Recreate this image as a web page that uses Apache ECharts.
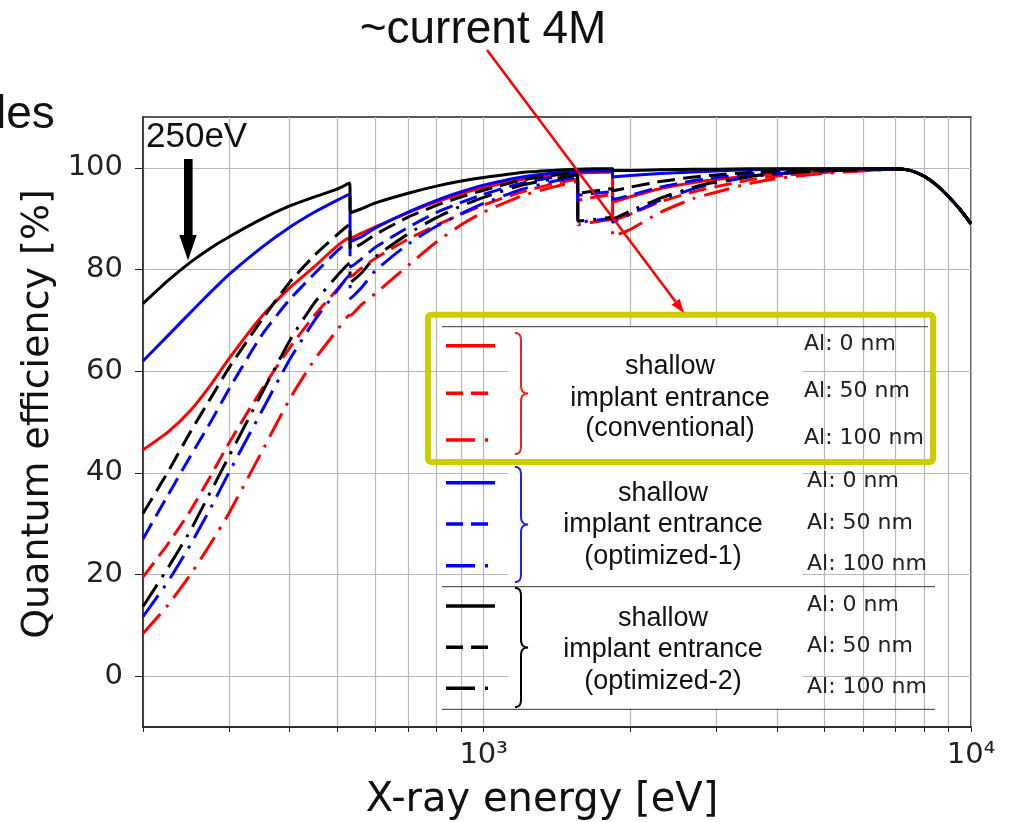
<!DOCTYPE html>
<html><head><meta charset="utf-8">
<script src="https://cdn.jsdelivr.net/npm/echarts@6/dist/echarts.min.js"></script>
<style>html,body{margin:0;padding:0;background:#fff}#c{width:1011px;height:822px}</style>
</head><body><div id="c"></div>
<script>
// X-ray energy [eV]
const energy = [200,225,250,275,300,350,400,450,500,531,533,560,600,700,800,900,1000,1200,1400,1559,1561,1700,1838,1840,2000,2300,2700,3000,3500,4000,5000,6000,7000,7500,8000,8500,9000,9500,10000];

// shallow implant entrance (conventional) - red
const conv0   = [44.5,48.0,52.2,57.2,62.4,70.7,76.4,80.6,84.6,86.2,86.2,87.1,88.4,91.2,93.3,94.9,96.1,97.7,98.6,99.0,99.0,99.1,99.2,93.2,94.3,95.9,97.1,97.7,98.4,98.9,99.4,99.6,99.8,99.5,98.4,96.6,94.3,91.8,89.0];
const conv50  = [19.5,26.0,32.5,39.3,45.8,56.3,64.6,71.0,76.0,78.6,78.6,80.2,82.2,86.0,88.7,90.9,92.7,95.3,96.9,97.8,93.6,94.3,94.8,89.6,90.9,93.3,95.3,96.3,97.6,98.4,99.1,99.5,99.7,99.5,98.4,96.6,94.3,91.8,89.0];
const conv100 = [8.4,14.0,19.9,26.0,32.0,44.0,54.5,62.3,68.0,71.0,71.0,73.0,75.3,80.8,85.4,88.8,91.3,94.5,96.3,97.3,88.8,89.4,89.9,86.5,87.9,91.2,94.0,95.2,96.9,97.9,98.9,99.4,99.7,99.5,98.4,96.6,94.3,91.8,89.0];

// shallow implant entrance (optimized-1) - blue
const opt1_0   = [62.0,67.0,71.5,75.5,79.0,84.3,88.3,91.3,93.6,94.8,85.5,86.4,88.2,91.3,93.6,95.3,96.6,98.2,99.0,99.3,99.3,99.4,99.4,98.2,98.5,98.9,99.2,99.4,99.6,99.7,99.8,99.8,99.8,99.5,98.4,96.6,94.3,91.8,89.0];
const opt1_50  = [27.0,35.6,43.2,49.9,56.4,67.0,74.1,79.2,83.6,85.8,80.5,82.0,84.4,88.3,91.2,93.2,94.8,97.0,98.2,98.8,94.6,95.0,95.3,93.8,94.6,96.2,97.5,98.1,98.8,99.2,99.5,99.7,99.8,99.5,98.4,96.6,94.3,91.8,89.0];
const opt1_100 = [11.7,18.6,25.8,33.0,40.0,52.0,62.3,70.0,75.8,79.0,74.3,76.3,79.8,85.0,88.5,91.0,93.0,95.8,97.4,98.2,89.3,89.7,90.1,89.3,90.9,93.6,95.9,97.0,98.2,98.8,99.4,99.6,99.8,99.5,98.4,96.6,94.3,91.8,89.0];

// shallow implant entrance (optimized-2) - black
const opt2_0   = [73.3,77.8,81.4,84.2,86.4,89.9,92.5,94.3,95.8,97.0,91.2,91.9,93.1,95.0,96.4,97.4,98.1,99.1,99.5,99.7,99.7,99.8,99.8,99.5,99.5,99.6,99.7,99.7,99.8,99.8,99.8,99.8,99.8,99.5,98.4,96.6,94.3,91.8,89.0];
const opt2_50  = [32.0,40.2,48.0,54.6,60.6,70.0,77.5,82.8,86.8,88.9,84.0,85.0,86.9,90.3,92.6,94.3,95.6,97.6,98.6,99.1,95.0,95.5,95.9,95.5,96.2,97.3,98.2,98.6,99.1,99.4,99.6,99.7,99.8,99.5,98.4,96.6,94.3,91.8,89.0];
const opt2_100 = [13.7,21.3,28.6,36.2,43.2,55.5,66.0,73.5,78.7,81.3,77.5,79.2,82.5,87.0,90.2,92.5,94.2,96.6,97.9,98.6,89.5,89.9,90.3,90.0,91.5,94.0,96.2,97.2,98.3,98.9,99.4,99.6,99.8,99.5,98.4,96.6,94.3,91.8,89.0];

// ticks
const yTickValues = [0,20,40,60,80,100];
const xGridValues = [200,300,400,500,600,700,800,900,1000,2000,3000,4000,5000,6000,7000,8000,9000,10000];
const xLabelValues = [1000,10000];
const xLabelText = {1000:'10³', 10000:'10⁴'};

const groupTitles = [
  ['shallow','implant entrance','(conventional)'],
  ['shallow','implant entrance','(optimized-1)'],
  ['shallow','implant entrance','(optimized-2)']
];
const alLabels = ['Al: 0 nm','Al: 50 nm','Al: 100 nm'];

const RED='#ff0000', BLUE='#0000ff', BLACK='#000000';
const DASH=[18,8], DASHDOT=[26,9,3,9];

function mk(name, vals, color, dash){
  return {
    name, type:'line', symbol:'none', showSymbol:false, animation:false, silent:true,
    smooth:0.2,
    data: energy.map((e,i)=>[e, vals[i]]),
    lineStyle:{color, width:3, type: dash || 'solid', cap:'butt', join:'round'},
    z: 3
  };
}

const series = [
  mk('conv100', conv100, RED, DASHDOT),
  mk('conv50', conv50, RED, DASH),
  mk('conv0', conv0, RED),
  mk('opt1_100', opt1_100, BLUE, DASHDOT),
  mk('opt1_50', opt1_50, BLUE, DASH),
  mk('opt1_0', opt1_0, BLUE),
  mk('opt2_100', opt2_100, BLACK, DASHDOT),
  mk('opt2_50', opt2_50, BLACK, DASH),
  mk('opt2_0', opt2_0, BLACK)
];

// ---------- annotation / legend graphics ----------
const g = [];
const TXT = '#111';
function text(t, x, y, size, family, align, extra, fill){
  g.push(Object.assign({type:'text', x, y, z:50, silent:true,
    style:{text:t, fontSize:size, fontFamily:family, fill:fill||TXT, align:align||'left', verticalAlign:'middle'}}, extra||{}));
}
function line(x1,y1,x2,y2,stroke,w,dash,z){
  g.push({type:'line', z:z||50, silent:true, shape:{x1,y1,x2,y2}, style:{stroke, lineWidth:w, lineDash:dash||null, lineCap:'butt'}});
}
function cubic(p0,p1,p2,p3,n){
  const out=[];
  for(let i=0;i<=n;i++){const t=i/n, u=1-t;
    out.push([u*u*u*p0[0]+3*u*u*t*p1[0]+3*u*t*t*p2[0]+t*t*t*p3[0], u*u*u*p0[1]+3*u*u*t*p1[1]+3*u*t*t*p2[1]+t*t*t*p3[1]]);}
  return out;
}
// legend white middle column (hides grid behind text)
g.push({type:'rect', z:40, silent:true, shape:{x:508, y:327, width:295, height:382}, style:{fill:'#ffffff'}});
// table rules
line(442,326.7,928,326.7,'#333',1);
line(442,586.7,935,586.7,'#333',1);
line(442,709.3,935,709.3,'#333',1);
// legend line samples
const rowY = [[345.7,393.3,440],[482.7,524,565.7],[606,647.3,688.3]];
const cols = [RED,BLUE,BLACK];
const lgDash = [null,[17,8],[29,10,3,10]];
for(let gi=0;gi<3;gi++){
  for(let r=0;r<3;r++){ line(446,rowY[gi][r],495,rowY[gi][r],cols[gi],3.5,lgDash[r],55); }
}
// braces
const braceCol = ['#ee2222','#2222ee','#000000'];
const braceY = [[333,454],[467,582],[588,707]];
for(let gi=0;gi<3;gi++){
  const y0=braceY[gi][0], y1=braceY[gi][1], ym=(y0+y1)/2;
  let pts = [];
  pts = pts.concat(cubic([515,y0],[519,y0],[521,y0+2],[521,y0+8],8));
  pts = pts.concat(cubic([521,ym-8],[521,ym-3],[523,ym],[528,ym],8));
  pts = pts.concat(cubic([528,ym],[523,ym],[521,ym+3],[521,ym+8],8));
  pts = pts.concat(cubic([521,y1-8],[521,y1-2],[519,y1],[515,y1],8));
  g.push({type:'polyline', z:55, silent:true, shape:{points:pts}, style:{fill:null, stroke:braceCol[gi], lineWidth:2}});
}
// group texts
const grpX=[670,663,663];
const grpY=[[366.7,398.3,428.3],[493.3,525,556.7],[618.3,650,681.7]];
for(let gi=0;gi<3;gi++) for(let r=0;r<3;r++) text(groupTitles[gi][r], grpX[gi], grpY[gi][r], 27, 'Liberation Sans', 'center');
const alX=[804,807,807];
const alY=[[344.5,391.7,438.5],[481.7,523.3,564.3],[605,646.7,687.3]];
for(let gi=0;gi<3;gi++) for(let r=0;r<3;r++) text(alLabels[r], alX[gi], alY[gi][r], 22, 'DejaVu Sans', 'left', null, '#222');
// yellow highlight box
g.push({type:'rect', z:60, silent:true, shape:{x:428, y:314.7, width:505, height:147.3, r:3}, style:{fill:null, stroke:'#cccc00', lineWidth:6}});
// red pointer arrow
line(487,50,675.6,301.8,'#ff0000',2.5,null,70);
g.push({type:'polygon', z:70, silent:true, shape:{points:[[684,313],[671.6,304.8],[679.6,298.8]]}, style:{fill:'#ff0000'}});
text('~current 4M', 483, 30, 46, 'Liberation Sans', 'center', {z:70});
text('les', -4, 115, 46, 'Liberation Sans', 'left', {z:70});
// 250 eV marker
text('250eV', 146, 137, 35, 'Liberation Sans', 'left', {z:70});
g.push({type:'rect', z:70, silent:true, shape:{x:184, y:159, width:8.6, height:77}, style:{fill:'#000'}});
g.push({type:'polygon', z:70, silent:true, shape:{points:[[179.3,235],[196.7,235],[188,260.5]]}, style:{fill:'#000'}});
// axis titles
text('X-ray energy [eV]', 542, 801, 40, 'DejaVu Sans', 'center', {z:70});
text('Quantum efficiency [%]', 38, 414, 38, 'DejaVu Sans', 'center', {z:70, rotation: Math.PI/2});

const chart = echarts.init(document.getElementById('c'), null, {renderer:'canvas'});
chart.setOption({
  animation:false,
  backgroundColor:'#ffffff',
  grid:{left:143, right:40, top:117, bottom:95, show:true, borderColor:'#222', borderWidth:1.5, backgroundColor:'transparent', containLabel:false},
  xAxis:{
    type:'log', logBase:10, min:200, max:10000,
    axisLine:{show:true, onZero:false, lineStyle:{color:'#222', width:1.5}},
    axisTick:{show:true, customValues:xGridValues, length:5, inside:false, lineStyle:{color:'#222', width:1}},
    axisLabel:{show:true, customValues:xLabelValues, formatter:v=>xLabelText[Math.round(v)]||'', fontFamily:'DejaVu Sans', fontSize:29, color:'#222', margin:14},
    splitLine:{show:true, lineStyle:{color:'#b8b8b8', width:1.2}},
    minorTick:{show:false}, minorSplitLine:{show:false}
  },
  yAxis:{
    type:'value', min:-10, max:110,
    axisLine:{show:true, lineStyle:{color:'#222', width:1.5}},
    axisTick:{show:true, customValues:yTickValues, length:8, inside:false, lineStyle:{color:'#222', width:1}},
    axisLabel:{show:true, customValues:yTickValues, fontFamily:'DejaVu Sans', fontSize:29, color:'#222', margin:20},
    splitLine:{show:true, lineStyle:{color:'#b8b8b8', width:1.2}}
  },
  series,
  graphic:{elements:g}
});
</script></body></html>
